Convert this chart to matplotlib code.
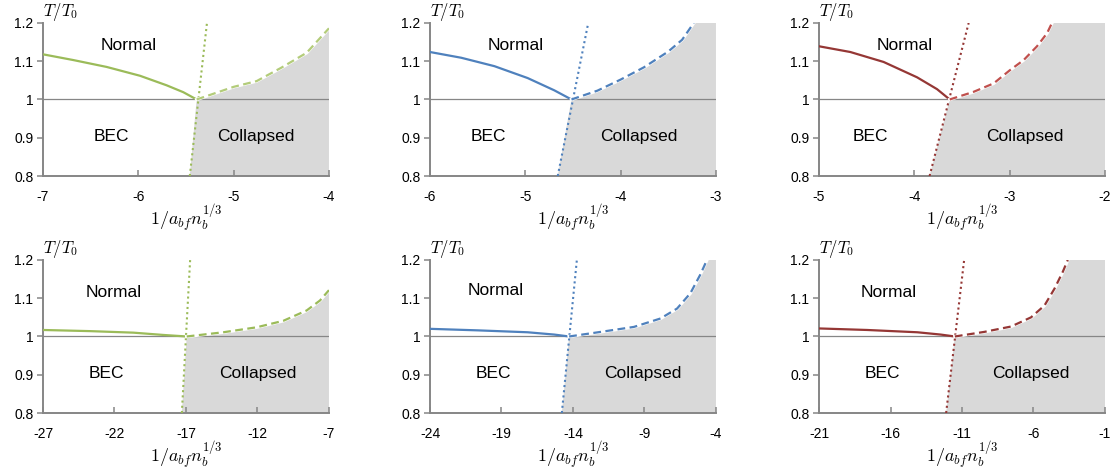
import matplotlib.pyplot as plt

plt.rcParams["font.family"] = ["Liberation Sans", "DejaVu Sans"]
plt.rcParams["mathtext.fontset"] = "cm"

# panel 1 (top left, green)
p1_solid_x = [-7.0, -6.682, -6.332, -5.983, -5.703, -5.528, -5.388]
p1_solid_y = [1.118, 1.103, 1.085, 1.062, 1.037, 1.019, 1.0]
p1_dot_x = [-5.46, -5.28]
p1_dot_y = [0.8, 1.2]
p1_dash_x = [-5.388, -5.0, -4.759, -4.5, -4.234, -4.0]
p1_dash_y = [1.0, 1.033, 1.048, 1.083, 1.122, 1.186]

# panel 2 (top middle, blue)
p2_solid_x = [-6.0, -5.672, -5.324, -4.976, -4.697, -4.516]
p2_solid_y = [1.124, 1.109, 1.087, 1.056, 1.024, 1.0]
p2_dot_x = [-4.66, -4.34]
p2_dot_y = [0.8, 1.2]
p2_dash_x = [-4.516, -4.244, -4.0, -3.756, -3.502, -3.355, -3.233]
p2_dash_y = [1.0, 1.023, 1.052, 1.084, 1.125, 1.156, 1.2]

# panel 3 (top right, red)
p3_solid_x = [-5.0, -4.671, -4.322, -3.972, -3.762, -3.629]
p3_solid_y = [1.139, 1.124, 1.098, 1.058, 1.027, 1.0]
p3_dot_x = [-3.84, -3.43]
p3_dot_y = [0.8, 1.2]
p3_dash_x = [-3.629, -3.378, -3.168, -3.0, -2.853, -2.713, -2.608, -2.556]
p3_dash_y = [1.0, 1.020, 1.042, 1.076, 1.103, 1.139, 1.173, 1.2]

# panel 4 (bottom left, green)
p4_solid_x = [-27, -23.71, -20.68, -18.58, -16.95]
p4_solid_y = [1.017, 1.014, 1.010, 1.004, 1.0]
p4_dot_x = [-17.29, -16.71]
p4_dot_y = [0.8, 1.2]
p4_dash_x = [-16.95, -14.39, -12.06, -10.19, -8.56, -7.63, -7.0]
p4_dash_y = [1.0, 1.011, 1.024, 1.041, 1.068, 1.094, 1.121]

# panel 5 (bottom middle, blue)
p5_solid_x = [-24, -20.66, -17.17, -15.31, -14.27]
p5_solid_y = [1.020, 1.016, 1.011, 1.005, 1.0]
p5_dot_x = [-14.78, -13.73]
p5_dot_y = [0.8, 1.2]
p5_dash_x = [-14.27, -12.06, -9.74, -7.88, -6.72, -5.79, -5.09, -4.63]
p5_dash_y = [1.0, 1.012, 1.025, 1.047, 1.073, 1.113, 1.162, 1.2]

# panel 6 (bottom right, dark red)
p6_solid_x = [-21, -17.63, -14.12, -12.49, -11.5]
p6_solid_y = [1.021, 1.017, 1.011, 1.005, 1.0]
p6_dot_x = [-12.11, -10.85]
p6_dot_y = [0.8, 1.2]
p6_dash_x = [-11.5, -9.44, -7.57, -6.17, -5.23, -4.53, -3.95, -3.6]
p6_dash_y = [1.0, 1.012, 1.026, 1.050, 1.081, 1.125, 1.169, 1.2]

x_ranges = [(-7, -4, 1), (-6, -3, 1), (-5, -2, 1), (-27, -7, 5), (-24, -4, 5), (-21, -1, 5)]
y_ticks = [0.8, 0.9, 1.0, 1.1, 1.2]
y_labels = ["0.8", "0.9", "1", "1.1", "1.2"]

panels = [
    (p1_solid_x, p1_solid_y, p1_dot_x, p1_dot_y, p1_dash_x, p1_dash_y),
    (p2_solid_x, p2_solid_y, p2_dot_x, p2_dot_y, p2_dash_x, p2_dash_y),
    (p3_solid_x, p3_solid_y, p3_dot_x, p3_dot_y, p3_dash_x, p3_dash_y),
    (p4_solid_x, p4_solid_y, p4_dot_x, p4_dot_y, p4_dash_x, p4_dash_y),
    (p5_solid_x, p5_solid_y, p5_dot_x, p5_dot_y, p5_dash_x, p5_dash_y),
    (p6_solid_x, p6_solid_y, p6_dot_x, p6_dot_y, p6_dash_x, p6_dash_y),
]
solid_colors = ["#9bbb59", "#4f81bd", "#953735", "#9bbb59", "#4f81bd", "#953735"]
dash_colors = ["#b3cc7a", "#4f81bd", "#c0504d", "#9bbb59", "#4f81bd", "#953735"]

# axes boxes in figure fraction
lefts = [0.0386, 0.386, 0.7352]
bottoms = [0.6263, 0.1231]
text_pos = [
    ((0.30, 0.85), (0.24, 0.26), (0.745, 0.26)),
    ((0.30, 0.85), (0.205, 0.26), (0.73, 0.26)),
    ((0.30, 0.85), (0.18, 0.26), (0.72, 0.26)),
    ((0.247, 0.79), (0.22, 0.26), (0.75, 0.26)),
    ((0.23, 0.80), (0.22, 0.26), (0.745, 0.26)),
    ((0.245, 0.79), (0.22, 0.26), (0.74, 0.26)),
]

fig = plt.figure(figsize=(11.14, 4.71), dpi=100)
grey = "#868686"

for i, (sx, sy, dx, dy, qx, qy) in enumerate(panels):
    ax = fig.add_axes([lefts[i % 3], bottoms[i // 3], 0.2567, 0.325])
    x0, x1, step = x_ranges[i]
    ax.set_xlim(x0, x1)
    ax.set_ylim(0.8, 1.2)

    # collapsed region
    top_y = min(qy[-1], 1.2)
    fx = [dx[0]] + qx + [x1, x1]
    fy = [dy[0]] + qy + [top_y, 0.8]
    ax.fill(fx, fy, color="#d9d9d9", lw=0, zorder=1)

    ax.axhline(1.0, color=grey, lw=0.9, zorder=2)
    ax.plot(sx, sy, color=solid_colors[i], lw=1.6, zorder=3,
            solid_joinstyle="round")
    ax.plot(dx, dy, color=solid_colors[i], lw=1.5, ls=(0, (1, 1.5)), zorder=3)
    ax.plot(qx, qy, color="white", lw=2.4, zorder=3)
    ax.plot(qx, qy, color=dash_colors[i], lw=1.6, ls=(0, (3.5, 2)), zorder=4)

    ax.set_xticks(range(x0, x1 + 1, step))
    ax.set_xticklabels([str(v) for v in range(x0, x1 + 1, step)])
    ax.set_yticks(y_ticks)
    ax.set_yticklabels(y_labels)
    ax.tick_params(axis="x", direction="in", length=4, width=1.1, color=grey,
                   pad=10, labelsize=10)
    ax.tick_params(axis="y", direction="out", length=4, width=1.1, color=grey,
                   pad=3, labelsize=10)
    for s in ("top", "right"):
        ax.spines[s].set_visible(False)
    for s in ("left", "bottom"):
        ax.spines[s].set_color(grey)
        ax.spines[s].set_linewidth(1.4)

    ax.set_xlabel(r"$1/a_{bf}n_b^{1/3}$", fontsize=13, labelpad=-1)
    ax.text(0.06, 1.0, r"$T/T_0$", transform=ax.transAxes, ha="center",
            va="bottom", fontsize=12)

    (nx, ny), (bx, by), (cx, cy) = text_pos[i]
    ax.text(nx, ny, "Normal", transform=ax.transAxes, ha="center", va="center", fontsize=12.5)
    ax.text(bx, by, "BEC", transform=ax.transAxes, ha="center", va="center", fontsize=12.5)
    ax.text(cx, cy, "Collapsed", transform=ax.transAxes, ha="center", va="center", fontsize=12.5)

fig.savefig("out.png", dpi=100)
